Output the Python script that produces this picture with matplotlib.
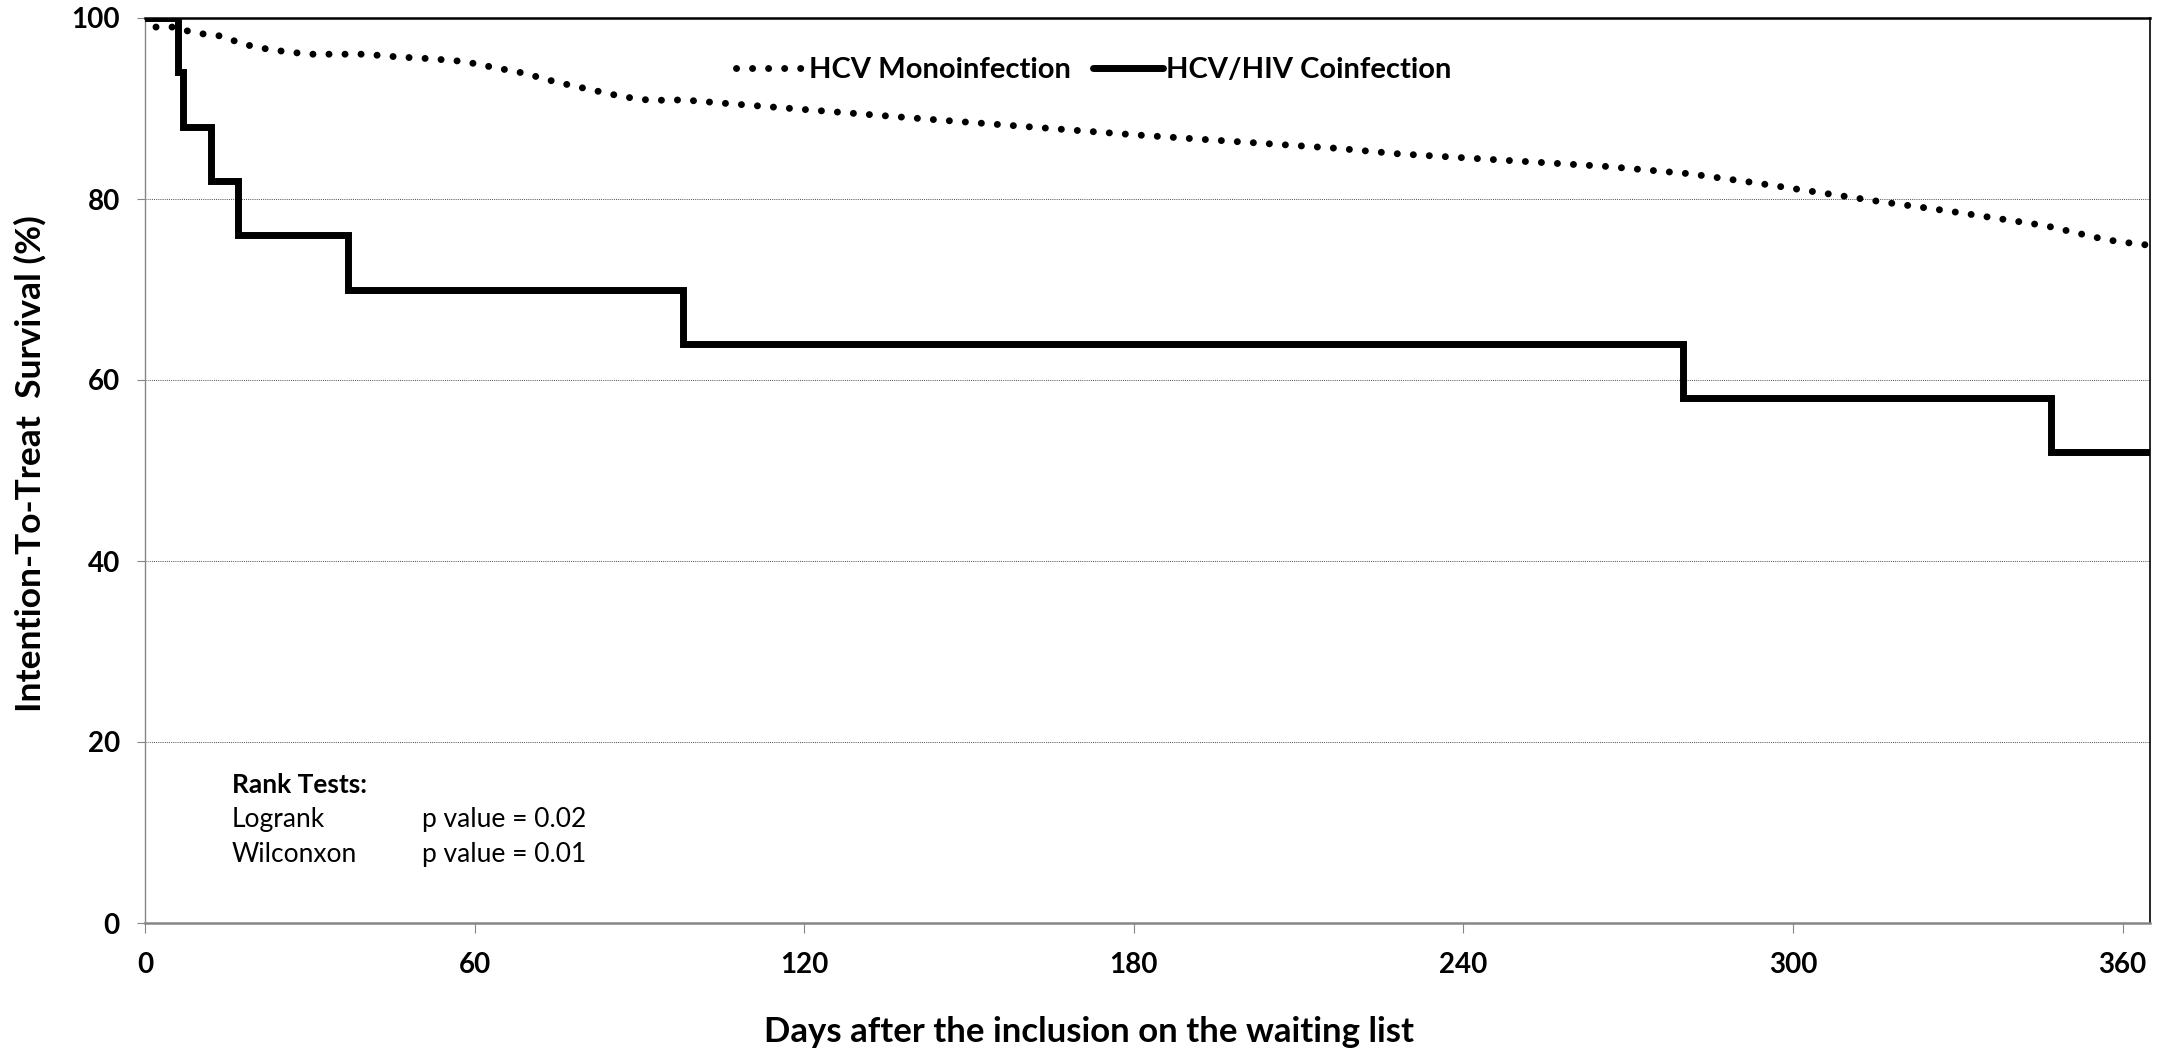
import matplotlib
matplotlib.use("Agg")
import matplotlib.pyplot as plt

plt.rcParams['font.family'] = ['Lato', 'DejaVu Sans']

# ---- data ----
mono_days = [2, 6, 8, 11, 14, 17, 20, 23, 26, 30, 40, 46, 52, 58, 63, 69, 75, 81, 87,
             92, 98, 105, 143, 180, 217, 228, 266, 281, 293, 305, 316, 328, 340, 346,
             352, 357, 363, 365]
mono_surv = [99.0, 99.0, 98.5, 98.2, 98.0, 97.3, 96.8, 96.5, 96.25, 96.0, 96.0, 95.7,
             95.5, 95.2, 94.6, 93.9, 92.9, 92.1, 91.3, 90.9, 90.95, 90.6, 88.8, 87.1,
             85.6, 85.0, 83.6, 82.8, 81.8, 80.7, 79.7, 78.7, 77.6, 77.05, 76.2, 75.5,
             75.0, 74.9]

co_days = [0, 6, 7, 12, 17, 37, 98, 280, 347, 365]
co_surv = [100, 94, 88, 82, 76, 70, 64, 58, 52, 52]

x_ticks = [0, 60, 120, 180, 240, 300, 360]
y_ticks = [0, 20, 40, 60, 80, 100]

series_labels = ["HCV Monoinfection", "HCV/HIV Coinfection"]
xlabel = "Days after the inclusion on the waiting list"
ylabel = "Intention-To-Treat  Survival (%)"
stats_title = "Rank Tests:"
stats_names = ["Logrank", "Wilconxon"]
stats_values = ["p value = 0.02", "p value = 0.01"]

# ---- figure ----
W, H = 2172, 1048
fig = plt.figure(figsize=(W / 100, H / 100), dpi=100)
ax = fig.add_axes([145 / W, 1 - 923 / H, (2150 - 145) / W, (923 - 18) / H])

gray = '#868686'

ax.plot(mono_days, mono_surv, color='black', lw=5, linestyle=(0, (0.01, 2.3)),
        dash_capstyle='round', label=series_labels[0], zorder=3)
ax.plot(co_days, co_surv, color='black', lw=5, drawstyle='steps-post',
        solid_joinstyle='miter', solid_capstyle='round', label=series_labels[1], zorder=4)

ax.set_xlim(0, 365)
ax.set_ylim(0, 100)
ax.set_xticks(x_ticks)
ax.set_yticks(y_ticks)

for yv in y_ticks[1:-1]:
    ax.axhline(yv, color='#4d4d4d', lw=0.7, linestyle=(0, (1, 1.2)), zorder=1)

ax.spines['top'].set_color('black')
ax.spines['top'].set_linewidth(1.8)
ax.spines['right'].set_color('black')
ax.spines['right'].set_linewidth(1.2)
ax.spines['left'].set_color(gray)
ax.spines['left'].set_linewidth(1.0)
ax.spines['bottom'].set_color(gray)
ax.spines['bottom'].set_linewidth(1.8)

ax.tick_params(axis='x', direction='out', length=7, width=0.8, color=gray, pad=14,
               labelsize=20)
ax.tick_params(axis='y', direction='out', length=6, width=0.8, color=gray, pad=12,
               labelsize=20)
for lab in ax.get_xticklabels() + ax.get_yticklabels():
    lab.set_fontweight('bold')

ax.set_xlabel(xlabel, fontsize=25, fontweight='bold')
ax.set_ylabel(ylabel, fontsize=25.5, fontweight='bold')
ax.xaxis.set_label_coords((1089 - 145) / 2005, -(1016 - 923) / 905)
ax.yaxis.set_label_coords(-(145 - 47) / 2005, 1 - (464 - 18) / 905)

leg = ax.legend(loc='center left', bbox_to_anchor=((736 - 145) / 2005, 1 - (70 - 18) / 905),
                frameon=False, ncol=2, handlelength=2.4, handletextpad=0.1,
                columnspacing=0.75, borderaxespad=0, borderpad=0,
                prop={'size': 21, 'weight': 'bold'})

ax.text(15.8, 15.3, stats_title, fontsize=19, fontweight='bold', va='center', ha='left')
for i, (nm, val) in enumerate(zip(stats_names, stats_values)):
    yv = 15.3 - (i + 1) * 3.85
    ax.text(15.8, yv, nm, fontsize=19, va='center', ha='left')
    ax.text(50.5, yv, val, fontsize=19, va='center', ha='left')

fig.savefig('out.png', dpi=100)
